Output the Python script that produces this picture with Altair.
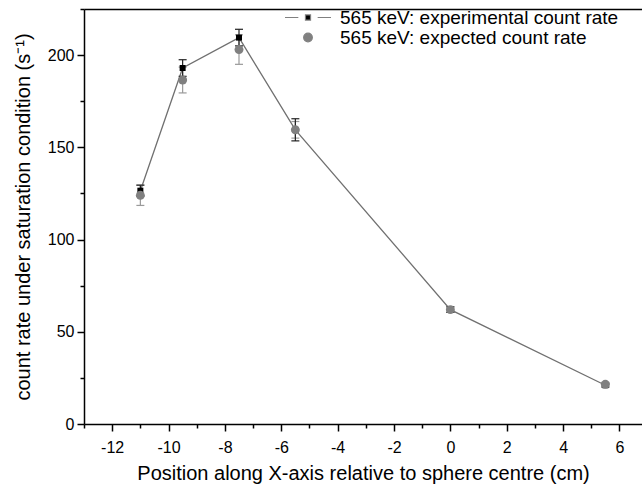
import altair as alt
import pandas as pd

# ---- data ----
positions = [-11, -9.5, -7.5, -5.5, 0, 5.5]
exp_rate = [126.5, 193, 209.5, 159.5, 62, 21]
exp_err = [3, 4.5, 4.5, 6, 1.5, 1]
expected_rate = [124, 186.5, 203, 159.5, 62, 21.5]
expected_err = [5.5, 7, 8, 4.5, 1.5, 1]

series_names = ["565 keV: experimental count rate", "565 keV: expected count rate"]
x_major = [-12, -10, -8, -6, -4, -2, 0, 2, 4, 6]
x_minor = [-13, -11, -9, -7, -5, -3, -1, 1, 3, 5]
y_major = [0, 50, 100, 150, 200]
y_minor = [25, 75, 125, 175, 225]

df = pd.DataFrame({
    "x": positions,
    "exp": exp_rate,
    "exp_lo": [v - e for v, e in zip(exp_rate, exp_err)],
    "exp_hi": [v + e for v, e in zip(exp_rate, exp_err)],
    "expc": expected_rate,
    "expc_lo": [v - e for v, e in zip(expected_rate, expected_err)],
    "expc_hi": [v + e for v, e in zip(expected_rate, expected_err)],
})
leg_df = pd.DataFrame({"series": series_names})

FONT = "Liberation Sans"
xs = alt.Scale(domain=[-13, 6.8], nice=False, zero=False)
ys = alt.Scale(domain=[0, 225], nice=False, zero=False)

main_x_axis = alt.Axis(
    orient="bottom", values=x_major, labelExpr="toString(datum.value)",
    tickSize=7, tickWidth=1.5, tickColor="black", domainColor="black", domainWidth=1.5,
    labelFontSize=16, labelColor="black", labelPadding=8, labelFont=FONT,
    title="Position along X-axis relative to sphere centre (cm)", titleFontSize=20,
    titleFontWeight="normal", titleColor="black", titleFont=FONT, titlePadding=8,
    grid=False,
)
main_y_axis = alt.Axis(
    orient="left", values=y_major,
    tickSize=7, tickWidth=1.5, tickColor="black", domainColor="black", domainWidth=1.5,
    labelFontSize=16, labelColor="black", labelPadding=3, labelFont=FONT,
    title="count rate under saturation condition (s⁻¹)", titleFontSize=20,
    titleFontWeight="normal", titleColor="black", titleFont=FONT, titlePadding=14,
    grid=False,
)
minor_x_axis = alt.Axis(orient="bottom", values=x_minor, labels=False, title=None,
                        tickSize=4, tickWidth=1.5, tickColor="black", domain=False, grid=False)
minor_y_axis = alt.Axis(orient="left", values=y_minor, labels=False, title=None,
                        tickSize=4, tickWidth=1.5, tickColor="black", domain=False, grid=False)
top_axis = alt.Axis(orient="top", labels=False, ticks=False, title=None, grid=False,
                    domainColor="black", domainWidth=1.5)

base = alt.Chart(df)

line = base.mark_line(color="#707070", strokeWidth=1.3).encode(
    x=alt.X("x:Q", scale=xs, axis=main_x_axis),
    y=alt.Y("exp:Q", scale=ys, axis=main_y_axis),
)

expc_rule = base.mark_rule(color="#9a9a9a", strokeWidth=1.2).encode(
    x=alt.X("x:Q", scale=xs, axis=top_axis),
    y=alt.Y("expc_lo:Q", scale=ys, axis=None), y2="expc_hi:Q",
)
expc_cap_lo = base.mark_tick(orient="horizontal", size=8, thickness=1.2, color="#9a9a9a", opacity=1).encode(
    x=alt.X("x:Q", scale=xs, axis=None), y=alt.Y("expc_lo:Q", scale=ys, axis=None))
expc_cap_hi = base.mark_tick(orient="horizontal", size=8, thickness=1.2, color="#9a9a9a", opacity=1).encode(
    x=alt.X("x:Q", scale=xs, axis=None), y=alt.Y("expc_hi:Q", scale=ys, axis=None))

exp_rule = base.mark_rule(color="#222222", strokeWidth=1.2).encode(
    x=alt.X("x:Q", scale=xs, axis=None),
    y=alt.Y("exp_lo:Q", scale=ys, axis=None), y2="exp_hi:Q",
)
exp_cap_lo = base.mark_tick(orient="horizontal", size=8, thickness=1.2, color="#222222", opacity=1).encode(
    x=alt.X("x:Q", scale=xs, axis=None), y=alt.Y("exp_lo:Q", scale=ys, axis=None))
exp_cap_hi = base.mark_tick(orient="horizontal", size=8, thickness=1.2, color="#222222", opacity=1).encode(
    x=alt.X("x:Q", scale=xs, axis=minor_x_axis), y=alt.Y("exp_hi:Q", scale=ys, axis=minor_y_axis))

squares = base.mark_square(color="black", size=36, opacity=1).encode(
    x=alt.X("x:Q", scale=xs, axis=None), y=alt.Y("exp:Q", scale=ys, axis=None))
circles = base.mark_circle(color="#808080", size=80, opacity=1).encode(
    x=alt.X("x:Q", scale=xs, axis=None), y=alt.Y("expc:Q", scale=ys, axis=None))

sym_path = "M-1,0H-0.42M0.42,0H1M-0.11,-0.11H0.11V0.11H-0.11Z"
leg = alt.Legend(
    orient="none", legendX=200, legendY=-1, title=None, padding=0,
    clipHeight=19, rowPadding=0, labelOffset=8, labelFontSize=19, labelFont=FONT,
    labelColor="black", symbolOpacity=1, labelLimit=400, symbolStrokeWidth=1.2,
)
legend_layer = alt.Chart(leg_df).transform_filter("false").mark_point(
    filled=True, opacity=1, strokeWidth=1.2
).encode(
    shape=alt.Shape("series:N", scale=alt.Scale(domain=series_names, range=[sym_path, "circle"]), legend=leg),
    fill=alt.Fill("series:N", scale=alt.Scale(domain=series_names, range=["black", "#808080"]), legend=leg),
    stroke=alt.Stroke("series:N", scale=alt.Scale(domain=series_names, range=["#808080", "#808080"]), legend=leg),
    size=alt.Size("series:N", scale=alt.Scale(domain=series_names, range=[2116, 75]), legend=leg),
)

chart = alt.layer(
    line, expc_rule, expc_cap_lo, expc_cap_hi, exp_rule, exp_cap_lo, exp_cap_hi,
    squares, circles, legend_layer,
).resolve_axis(x="independent", y="independent").properties(
    width=558, height=415,
    autosize=alt.AutoSizeParams(type="none"),
    padding={"left": 84, "top": 9, "right": 0, "bottom": 64},
).configure_view(stroke=None).configure(font=FONT, background="white")

chart.save("out.html", embed_options={"renderer": "svg", "actions": False})
